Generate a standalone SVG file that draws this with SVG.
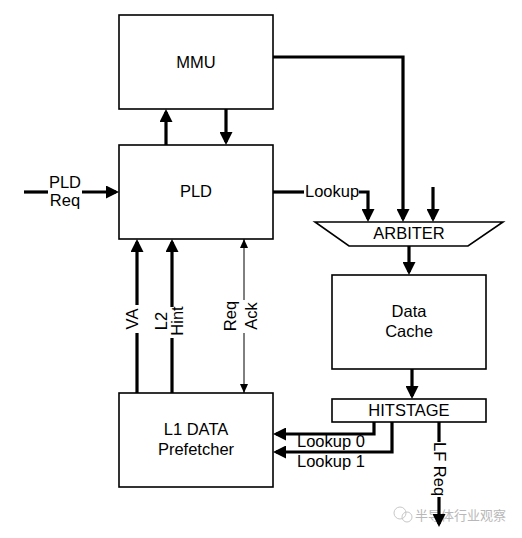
<svg xmlns="http://www.w3.org/2000/svg" width="522" height="538" viewBox="0 0 522 538">
<style>
.box{fill:#fff;stroke:#000;stroke-width:1.6}
.t{font-family:"Liberation Sans",Arial,sans-serif;font-size:16.5px;fill:#000}
.m{text-anchor:middle}
.c{fill:none;stroke:#000;stroke-width:3.2}
.thin{fill:none;stroke:#000;stroke-width:1}
.wm{font-family:"Noto Sans CJK SC","Noto Sans",sans-serif;font-size:13px;fill:#b8b8b8}
</style>
<defs>
<marker id="ah" markerUnits="userSpaceOnUse" viewBox="0 0 13 13" markerWidth="13" markerHeight="13" refX="10" refY="6.5" orient="auto"><path d="M0,0L13,6.5L0,13z" fill="#000"/></marker>
<marker id="as" markerUnits="userSpaceOnUse" viewBox="0 0 9 8" markerWidth="9" markerHeight="8" refX="9" refY="4" orient="auto"><path d="M0,0L9,4L0,8z" fill="#000"/></marker>
</defs>
<rect width="522" height="538" fill="#fff"/>

<g id="watermark">
<circle cx="400" cy="513" r="6" fill="none" stroke="#c8c8c8" stroke-width="1"/>
<circle cx="407" cy="517" r="5" fill="none" stroke="#c8c8c8" stroke-width="1"/>
<text class="wm" x="415" y="520">半导体行业观察</text>
</g>

<g id="mmu"><rect class="box" x="119" y="15" width="154" height="94"/><text class="t m" x="196" y="68">MMU</text></g>
<g id="pld"><rect class="box" x="119" y="145" width="154" height="94"/><text class="t m" x="196" y="197">PLD</text></g>
<g id="l1"><rect class="box" x="119" y="393" width="154" height="94"/><text class="t m" x="196" y="435">L1 DATA</text><text class="t m" x="196" y="455">Prefetcher</text></g>
<g id="arbiter"><polygon class="box" points="315,222 503,222 468,246 349,246"/><text class="t m" x="409" y="239">ARBITER</text></g>
<g id="dcache"><rect class="box" x="332" y="275" width="154" height="94"/><text class="t m" x="409" y="317">Data</text><text class="t m" x="409" y="337">Cache</text></g>
<g id="hitstage"><rect class="box" x="332" y="399" width="154" height="23"/><text class="t m" x="409" y="416">HITSTAGE</text></g>

<g id="connectors">
<path class="c" d="M166,145V112" marker-end="url(#ah)"/>
<path class="c" d="M226,109V142" marker-end="url(#ah)"/>
<path class="c" d="M24,192H48"/>
<path class="c" d="M82,192H116" marker-end="url(#ah)"/>
<path class="c" d="M273,192H304"/>
<path class="c" d="M359,192H368V219" marker-end="url(#ah)"/>
<path class="c" d="M273,57H403V219" marker-end="url(#ah)"/>
<path class="c" d="M433,187V219" marker-end="url(#ah)"/>
<path class="c" d="M409,246V272" marker-end="url(#ah)"/>
<path class="c" d="M412,369V396" marker-end="url(#ah)"/>
<path class="c" d="M374,422V434H276" marker-end="url(#ah)"/>
<path class="c" d="M392,422V452H276" marker-end="url(#ah)"/>
<path class="c" d="M439,422V442"/>
<path class="c" d="M439,497V524" marker-end="url(#ah)"/>
<path class="c" d="M137,393V333"/>
<path class="c" d="M137,305V242" marker-end="url(#ah)"/>
<path class="c" d="M172,393V338"/>
<path class="c" d="M172,307V242" marker-end="url(#ah)"/>
<path class="thin" d="M244,300V239" marker-end="url(#as)"/>
<path class="thin" d="M244,333V393" marker-end="url(#as)"/>
</g>

<g id="labels">
<text class="t m" x="65" y="188">PLD</text>
<text class="t m" x="65" y="206">Req</text>
<text class="t" x="305" y="197">Lookup</text>
<text class="t" x="297" y="447">Lookup 0</text>
<text class="t" x="297" y="467">Lookup 1</text>
<text class="t m" transform="translate(138,319) rotate(-90)">VA</text>
<text class="t m" transform="translate(167,321) rotate(-90)"><tspan x="0" y="0">L2</tspan><tspan x="0" y="16">Hint</tspan></text>
<text class="t m" transform="translate(236,316) rotate(-90)"><tspan x="0" y="0">Req</tspan><tspan x="0" y="21">Ack</tspan></text>
<text class="t m" transform="translate(434,469) rotate(90)">LF Req</text>
</g>
</svg>
